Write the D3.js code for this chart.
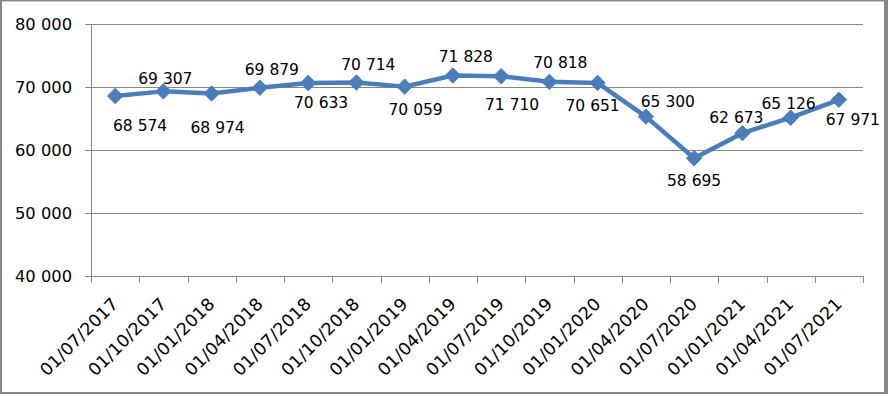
<!DOCTYPE html>
<html><head><meta charset="utf-8">
<script src="https://cdn.jsdelivr.net/npm/d3@7"></script>
<style>html,body{margin:0;padding:0;background:#fff;}svg{display:block;}</style>
</head><body>
<svg id="chart" width="888" height="394"></svg>
<script>
const categories = ["01/07/2017","01/10/2017","01/01/2018","01/04/2018","01/07/2018","01/10/2018","01/01/2019","01/04/2019","01/07/2019","01/10/2019","01/01/2020","01/04/2020","01/07/2020","01/01/2021","01/04/2021","01/07/2021"];
const values = [68574,69307,68974,69879,70633,70714,70059,71828,71710,70818,70651,65300,58695,62673,65126,67971];
const yTicks = [40000,50000,60000,70000,80000];
// label nudges (layout only): [dx of label centre, dy of baseline] from each point
const labelNudge = [[25,35],[2,-7],[6,40],[12,-13],[13,25],[12,-13],[11,28],[13,-13],[11,34],[11,-14],[-5,28],[22,-10],[0,28],[-6,-10],[-2,-9],[14,25]];

const svg = d3.select("#chart");
const W = 888, H = 394;
const FONT = "DejaVu Sans, sans-serif";
const GREY = "#868686";

svg.append("rect").attr("x",0).attr("y",0).attr("width",W).attr("height",H).attr("fill","#878787");
svg.append("rect").attr("x",2).attr("y",1.5).attr("width",882).attr("height",390.5).attr("fill","#fff");

const x = d3.scaleBand().domain(categories).range([91,863]);
const y = d3.scaleLinear().domain([40000,80000]).range([276,24]);
const fmt = v => d3.format(",")(v).replace(/,/g," ");

// gridlines
svg.append("g").selectAll("line").data(yTicks).join("line")
  .attr("x1",85).attr("x2",863)
  .attr("y1",d=>Math.round(y(d))+0.5).attr("y2",d=>Math.round(y(d))+0.5)
  .attr("stroke",GREY).attr("stroke-width",1);

// y axis line
svg.append("line").attr("x1",91.5).attr("x2",91.5).attr("y1",24).attr("y2",276)
  .attr("stroke",GREY);

// y labels
svg.append("g").selectAll("text").data(yTicks).join("text")
  .attr("x",72).attr("y",d=>y(d)+6)
  .attr("text-anchor","end").attr("font-family",FONT).attr("font-size",16).attr("fill","#000")
  .attr("textLength",57).attr("lengthAdjust","spacingAndGlyphs")
  .text(fmt);

// x ticks at category boundaries
const bounds = categories.map(c=>x(c)).concat([x.range()[1]]);
svg.append("g").selectAll("line").data(bounds).join("line")
  .attr("x1",d=>Math.round(d)+0.5).attr("x2",d=>Math.round(d)+0.5)
  .attr("y1",276).attr("y2",283).attr("stroke",GREY);

// x labels
svg.append("g").selectAll("text").data(categories).join("text")
  .attr("transform",d=>`translate(${x(d)+x.bandwidth()/2+4},${305}) rotate(-45)`)
  .attr("text-anchor","end").attr("font-family",FONT).attr("font-size",17).attr("fill","#000")
  .attr("textLength",102).attr("lengthAdjust","spacingAndGlyphs")
  .text(d=>d);

// line
const cx = (d,i)=>x(categories[i])+x.bandwidth()/2;
const line = d3.line().x((d,i)=>cx(d,i)).y(d=>y(d));
svg.append("path").datum(values).attr("d",line)
  .attr("fill","none").attr("stroke","#4A7EBB").attr("stroke-width",4.5).attr("stroke-linejoin","round");

// markers
const r = 7.7;
svg.append("g").selectAll("path").data(values).join("path")
  .attr("d",(d,i)=>{const px=cx(d,i),py=y(d);return `M${px},${py-r}L${px+r},${py}L${px},${py+r}L${px-r},${py}Z`;})
  .attr("fill","#4A7EBB").attr("stroke","#4A7EBB").attr("stroke-width",1);

// data labels
svg.append("g").selectAll("text").data(values).join("text")
  .attr("x",(d,i)=>cx(d,i)+labelNudge[i][0])
  .attr("y",(d,i)=>y(d)+labelNudge[i][1])
  .attr("text-anchor","middle").attr("font-family",FONT).attr("font-size",15.5).attr("fill","#000")
  .text(fmt);
</script>
</body></html>
